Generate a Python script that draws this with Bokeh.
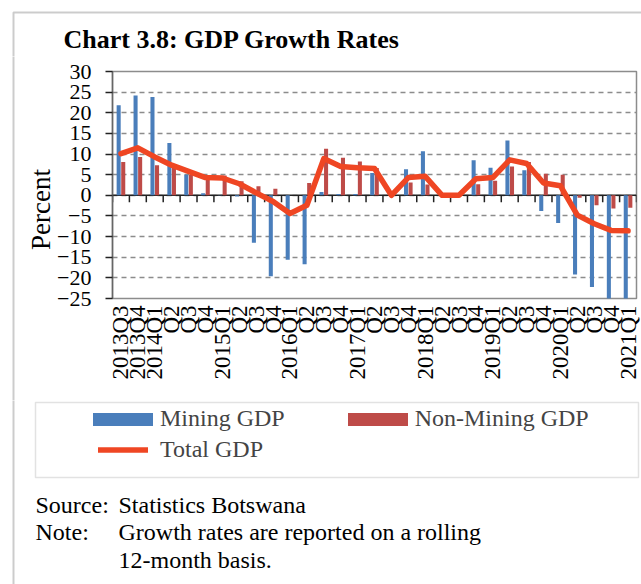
import math
from bokeh.plotting import figure
from bokeh.layouts import column, row
from bokeh.models import (Range1d, FixedTicker, Span, Label, Legend, LegendItem,
                          BoxAnnotation, ColumnDataSource)
from bokeh.transform import dodge
from bokeh.embed import file_html
from bokeh.resources import INLINE

# ---------------- data ----------------
quarters = ["2013Q3", "2013Q4", "2014Q1", "Q2", "Q3", "Q4",
            "2015Q1", "Q2", "Q3", "Q4",
            "2016Q1", "Q2", "Q3", "Q4",
            "2017Q1", "Q2", "Q3", "Q4",
            "2018Q1", "Q2", "Q3", "Q4",
            "2019Q1", "Q2", "Q3", "Q4",
            "2020Q1", "Q2", "Q3", "Q4",
            "2021Q1"]
mining = [21.8, 24.2, 23.8, 12.7, 5.0, 0.5, 0.1, -0.3, -11.5, -19.6,
          -15.6, -16.7, 0.8, 0.3, 0.3, 5.4, 0.0, 6.3, 10.7, 0.0,
          0.0, 8.5, 6.7, 13.3, 6.1, -3.8, -6.7, -19.2, -22.2, -26.0,
          -26.0]
non_mining = [8.1, 9.3, 7.3, 6.7, 4.9, 4.8, 4.8, 3.4, 2.2, 1.6,
              0.0, 3.0, 11.3, 9.1, 8.2, 6.6, 0.0, 3.1, 2.6, 0.0,
              0.0, 2.7, 3.5, 7.0, 8.1, 5.2, 5.0, -0.6, -2.4, -3.2,
              -3.0]
total = [10.1, 11.5, 9.3, 7.3, 5.8, 4.3, 4.2, 2.8, 0.6, -1.5,
         -4.4, -2.4, 8.9, 7.0, 6.7, 6.5, 0.0, 4.3, 4.6, 0.0,
         0.0, 4.0, 4.3, 8.6, 7.7, 3.0, 2.3, -4.8, -6.9, -8.5,
         -8.6]
y_ticks = [-25, -20, -15, -10, -5, 0, 5, 10, 15, 20, 25, 30]

title_text = "Chart 3.8: GDP Growth Rates"
y_title = "Percent"
series_names = ["Mining GDP", "Non-Mining GDP", "Total GDP"]
source_lead = ["Source:", "Note:", ""]
source_body = ["Statistics Botswana", "Growth rates are reported on a rolling", "12-month basis."]

# ---------------- layout constants (pixels) ----------------
W, H = 641, 584
TOP_H = 56          # title strip
MID_H = 344         # chart strip
BOT_H = H - TOP_H - MID_H
LEFT_W = 54         # strip holding the y title
FRAME_L, FRAME_R, FRAME_T, FRAME_B = 107, 636, 71, 298
BASE_SHIFT = 9      # Label "alphabetic" anchor sits this far above the drawn baseline
FONT = "Liberation Serif"
BLUE = "#4A7EBB"
RED = "#BE4B48"
LINE = "#EF4623"
RULE = "#555555"
NAN = float("nan")


def deco_figure(w, h):
    f = figure(width=w, height=h, output_backend="svg", toolbar_location=None,
               x_range=Range1d(0, w), y_range=Range1d(h, 0), frame_align=False,
               x_axis_location=None, y_axis_location=None, min_border=0)
    f.grid.visible = False
    f.outline_line_color = None
    f.background_fill_color = "white"
    f.border_fill_color = "white"
    return f


def rule_box(f, left, top):
    # open frame: only the left and top edges fall inside the figure
    f.add_layout(BoxAnnotation(left=left, right=5000, top=top, bottom=5000,
                               fill_alpha=0, line_color=RULE, line_width=2))


# ---------------- top strip: title ----------------
pt = deco_figure(W, TOP_H)
rule_box(pt, 13, 12)
pt.add_layout(Label(x=63, y=48 - BASE_SHIFT, text=title_text, text_font=FONT,
                    text_font_size="26px", text_font_style="bold",
                    text_baseline="alphabetic", text_color="black"))

# ---------------- left strip: y title ----------------
pl = deco_figure(LEFT_W, MID_H)
rule_box(pl, 13, -5000)
pl.add_layout(Label(x=40, y=209 - TOP_H, text=y_title, angle=math.pi / 2, text_align="center",
                    text_baseline="middle", text_font=FONT, text_font_size="27px",
                    text_color="black"))

# ---------------- chart ----------------
n = len(quarters)
xs = list(range(n))
src = ColumnDataSource(dict(x=xs, mining=mining, non_mining=non_mining, total=total))

p = figure(width=W - LEFT_W, height=MID_H, output_backend="svg", toolbar_location=None,
           x_range=Range1d(-0.5, n - 0.5), y_range=Range1d(y_ticks[0], y_ticks[-1]),
           frame_align=False,
           min_border_left=FRAME_L - LEFT_W, min_border_right=W - FRAME_R,
           min_border_top=FRAME_T - TOP_H, min_border_bottom=TOP_H + MID_H - FRAME_B)
p.background_fill_color = "white"
p.border_fill_color = "white"
p.outline_line_color = "#8c8c8c"
p.outline_line_width = 1.5

p.xgrid.visible = False
p.ygrid.ticker = FixedTicker(ticks=y_ticks)
p.ygrid.grid_line_color = "#8c8c8c"
p.ygrid.grid_line_dash = "5 4"
p.ygrid.grid_line_width = 1.5

p.add_layout(Span(location=0, dimension="width", line_color="#222222",
                  line_width=1.5, level="underlay"))

rm = p.vbar(x=dodge("x", -0.135, range=p.x_range), top="mining", width=0.24,
            source=src, fill_color=BLUE, line_color=None)
rn = p.vbar(x=dodge("x", 0.135, range=p.x_range), top="non_mining", width=0.24,
            source=src, fill_color=RED, line_color=None)

bounds = [i - 0.5 for i in range(n + 1)]
p.segment(x0=bounds, y0=[0] * len(bounds), x1=bounds, y1=[-1.7] * len(bounds),
          line_color="#222222", line_width=1.5)

rt = p.line(x="x", y="total", source=src, line_color=LINE, line_width=5.5,
            line_join="round", line_cap="round")

xa = p.xaxis[0]
xa.ticker = FixedTicker(ticks=xs)
xa.major_label_overrides = {i: q for i, q in zip(xs, quarters)}
xa.major_label_orientation = math.pi / 2
xa.axis_line_color = None
xa.major_tick_out = 0
xa.major_tick_in = 0
xa.minor_tick_out = 0
xa.minor_tick_in = 0
xa.major_label_standoff = 7
xa.major_label_text_font = FONT
xa.major_label_text_font_size = "23px"
xa.major_label_text_color = "black"

ya = p.yaxis[0]
ya.ticker = FixedTicker(ticks=y_ticks)
ya.axis_line_color = "#666666"
ya.axis_line_width = 1.5
ya.major_tick_out = 7
ya.major_tick_in = 0
ya.major_tick_line_color = "#222222"
ya.major_tick_line_width = 1.5
ya.minor_tick_out = 0
ya.minor_tick_in = 0
ya.major_label_standoff = 14
ya.major_label_text_font = FONT
ya.major_label_text_font_size = "22px"
ya.major_label_text_color = "black"

# ---------------- bottom strip: legend and notes ----------------
Y0 = TOP_H + MID_H
pb = deco_figure(W, BOT_H)
rule_box(pb, 13, -5000)
pb.add_layout(BoxAnnotation(left=35, right=638, top=402 - Y0, bottom=477 - Y0,
                            fill_alpha=0, line_color="#a0a0a0", line_width=1.5))

# legend sample glyphs (a single NaN row; styled like the chart's renderers)
km = pb.vbar(x=[NAN], top=[NAN], width=0.24, fill_color=BLUE, line_color=None)
kn = pb.vbar(x=[NAN], top=[NAN], width=0.24, fill_color=RED, line_color=None)
kt = pb.line(x=[NAN], y=[NAN], line_color=LINE, line_width=5.5, line_cap="round")

# bar samples are drawn inset by 10% of the glyph box, hence 75x16 boxes for 60x13 swatches
leg1 = Legend(items=[LegendItem(label=series_names[0], renderers=[km]),
                     LegendItem(label=series_names[1], renderers=[kn])],
              orientation="horizontal", location=(85, BOT_H - (432 - Y0)),
              glyph_width=75, glyph_height=16, label_standoff=0, spacing=55,
              padding=0, margin=0, border_line_color=None, background_fill_alpha=0,
              label_text_font=FONT, label_text_font_size="24px")
leg2 = Legend(items=[LegendItem(label=series_names[2], renderers=[kt])],
              orientation="horizontal", location=(98, BOT_H - (462.5 - Y0)),
              glyph_width=50, glyph_height=13, label_standoff=12,
              padding=0, margin=0, border_line_color=None, background_fill_alpha=0,
              label_text_font=FONT, label_text_font_size="24px")
pb.add_layout(leg1)
pb.add_layout(leg2)

baselines = [513, 540, 568]
for lead, body, b in zip(source_lead, source_body, baselines):
    yb = b - Y0 - BASE_SHIFT
    if lead:
        pb.add_layout(Label(x=35, y=yb, text=lead, text_font=FONT, text_font_size="24px",
                            text_baseline="alphabetic", text_color="black"))
    pb.add_layout(Label(x=118, y=yb, text=body, text_font=FONT, text_font_size="24px",
                        text_baseline="alphabetic", text_color="black"))

layout = column(pt, row(pl, p), pb)
open("out.html", "w").write(file_html(layout, INLINE))
